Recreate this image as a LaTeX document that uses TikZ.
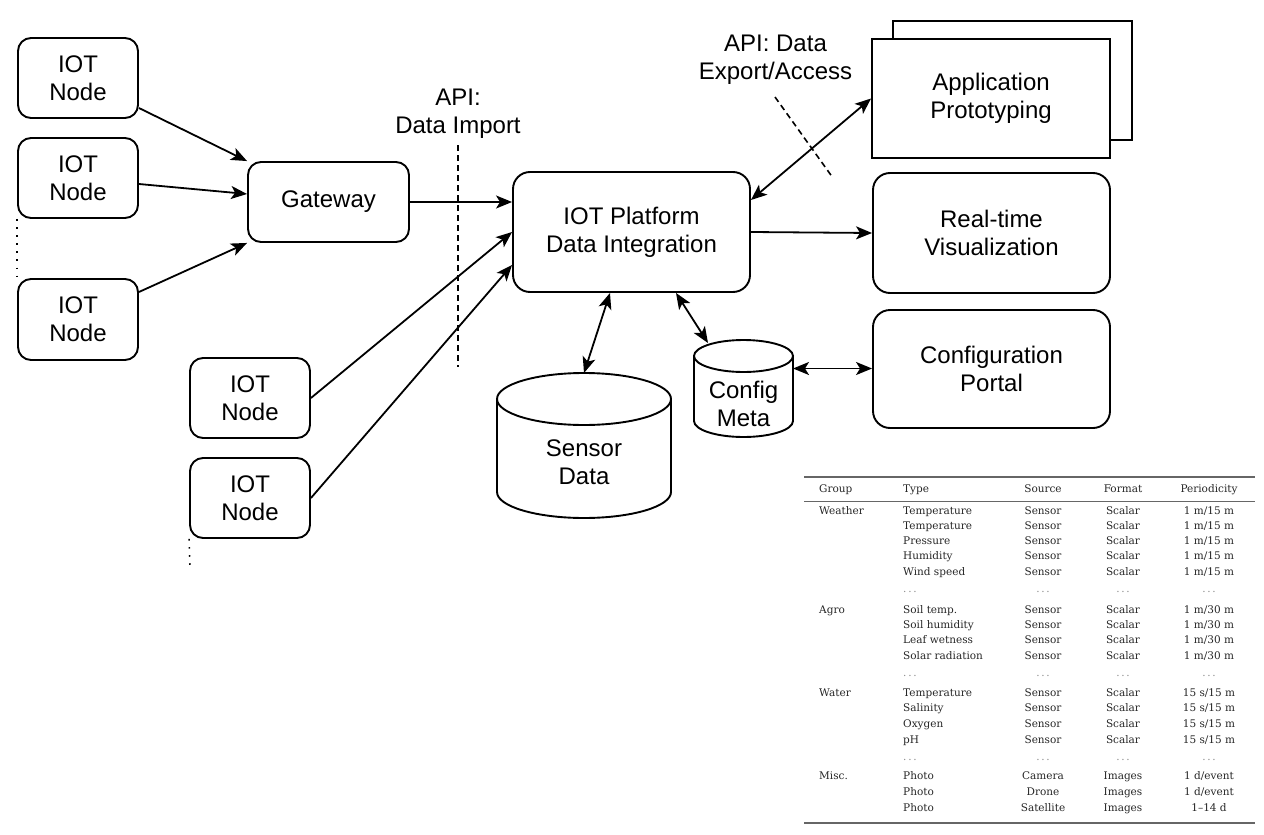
\documentclass[tikz,border=0pt]{standalone}
\usepackage{fontspec}
\setmainfont{Liberation Sans}
\newfontfamily\tabfont{DejaVu Serif}
\usetikzlibrary{arrows.meta}
\definecolor{tabtext}{gray}{0.15}
\definecolor{tabdots}{gray}{0.55}
\definecolor{tabrule}{gray}{0.4}
\newcommand\trow[6]{%
  \node[tcell,anchor=west] (#1t) at (903,#2) {#3};
  \node[tcell] (#1s) at (1043,#2) {#4};
  \node[tcell] (#1f) at (1123,#2) {#5};
  \node[tcell] (#1p) at (1209,#2) {#6};
}
\newcommand\tdots[2]{%
  \node[tdot,anchor=west] (#1t) at (903,#2) {.\,.\,.};
  \node[tdot] (#1s) at (1043,#2) {.\,.\,.};
  \node[tdot] (#1f) at (1123,#2) {.\,.\,.};
  \node[tdot] (#1p) at (1209,#2) {.\,.\,.};
}
\begin{document}
\begin{tikzpicture}[x=1pt,y=-1pt,
  box/.style={draw, line width=1.9pt, rounded corners=13pt, align=center,
    font=\fontsize{24}{28}\selectfont, inner sep=0pt},
  sqbox/.style={draw, line width=1.9pt, align=center, fill=white,
    font=\fontsize{24}{28}\selectfont, inner sep=0pt},
  lbl/.style={align=center, font=\fontsize{24}{28}\selectfont, inner sep=0pt},
  ghost/.style={inner sep=0pt, outer sep=0pt},
  cyl/.style={line width=1.9pt},
  arr/.style={line width=1.8pt, -{Stealth[length=16pt,width=13pt,inset=4pt]}},
  dbl/.style={line width=1.8pt, {Stealth[length=16pt,width=13pt,inset=4pt]}-{Stealth[length=16pt,width=13pt,inset=4pt]}},
  apiline/.style={line width=1.6pt, dash pattern=on 6pt off 4pt},
  dotline/.style={line width=1.6pt, dash pattern=on 1.6pt off 6.5pt},
  tcell/.style={inner sep=0pt, text=tabtext, font=\tabfont\fontsize{10.5}{12}\selectfont,
    text height=7.5pt, text depth=2pt},
  tdot/.style={tcell, text=tabdots},
  trule/.style={draw=tabrule}
]
\useasboundingbox (0,0) rectangle (1264,835);

% IOT nodes
\node[box, minimum width=120pt, minimum height=80pt] (n1) at (78,78) {IOT\\Node};
\node[box, minimum width=120pt, minimum height=80pt] (n2) at (78,178) {IOT\\Node};
\node[box, minimum width=120pt, minimum height=81pt] (n3) at (78,319.5) {IOT\\Node};
\node[box, minimum width=120pt, minimum height=80pt] (n4) at (250,398) {IOT\\Node};
\node[box, minimum width=120pt, minimum height=80pt] (n5) at (250,498) {IOT\\Node};
\coordinate (n5end) at (190,570);

% Gateway and platform
\node[box, minimum width=161pt, minimum height=80pt] (gw) at (328.5,202) {Gateway};
\node[box, rounded corners=17pt, minimum width=237pt, minimum height=120pt] (pl) at (631.5,232) {IOT Platform\\Data Integration};

% Right side boxes
\node[sqbox, minimum width=239pt, minimum height=119pt] (apb) at (1012.5,80.5) {};
\node[sqbox, minimum width=238pt, minimum height=119pt] (ap) at (991,98.5) {Application\\Prototyping};
\node[box, rounded corners=17pt, minimum width=237pt, minimum height=120pt] (rt) at (991.5,233) {Real-time\\Visualization};
\node[box, rounded corners=17pt, minimum width=237pt, minimum height=118pt] (cp) at (991.5,369) {Configuration\\Portal};

% Sensor Data cylinder
\draw[cyl] (497,399) -- (497,492) arc[start angle=180, end angle=360, x radius=87pt, y radius=26pt] -- (671,399);
\draw[cyl] (584,399) ellipse [x radius=87pt, y radius=26pt];
\node[ghost, minimum width=174pt, minimum height=145pt] (sd) at (584,445.5) {};
\node[lbl] (sdl) at (584,462) {Sensor\\Data};

% Config Meta cylinder
\draw[cyl] (694,356) -- (694,421) arc[start angle=180, end angle=360, x radius=49.5pt, y radius=16pt] -- (793,356);
\draw[cyl] (743.5,356) ellipse [x radius=49.5pt, y radius=16pt];
\node[ghost, minimum width=99pt, minimum height=97pt] (cm) at (743.5,388.5) {};
\node[lbl] (cml) at (743.5,403.5) {Config\\Meta};

% API labels and dashed lines
\node[lbl] (apiin) at (458,114) {API:\\Data Import};
\coordinate (apiinA) at (458,145);
\coordinate (apiinB) at (458,367);
\draw[apiline] (apiinA) -- (apiinB);
\node[lbl] (apiout) at (775.5,60) {API: Data\\Export/Access};
\coordinate (apioutA) at (775,97);
\coordinate (apioutB) at (833,178);
\draw[apiline] (apioutA) -- (apioutB);

% dotted continuation lines
\draw[dotline] (n2.south west) -- (n3.north west);
\draw[dotline] (n5.south west) -- (n5end);

% connectors
\draw[arr] ([yshift=-30pt]n1.east) -- (gw.north west);
\draw[arr] ([yshift=-6pt]n2.east) -- ([yshift=8pt]gw.west);
\draw[arr] ([yshift=27.5pt]n3.east) -- (gw.south west);
\draw[arr] (gw.east) -- (gw.east -| pl.west);
\draw[arr] (n4.east) -- (pl.west);
\draw[arr] (n5.east) -- ([yshift=-33pt]pl.west);
\draw[dbl] ([yshift=32pt]pl.east) -- (ap.west);
\draw[arr] (pl.east) -- (rt.west);
\draw[dbl] ([xshift=-21.5pt]pl.south) -- (sd.north);
\draw[dbl] ([xshift=44.5pt]pl.south) -- ([xshift=-35.5pt,yshift=-3pt]cm.north);
\draw[dbl] ([yshift=20pt]cm.east) -- ([yshift=20pt]cm.east -| cp.west);

% Table
\draw[trule, line width=1.8pt] (804,477) -- (1255,477);
\draw[trule, line width=0.9pt] (804,501) -- (1255,501);
\draw[trule, line width=1.8pt] (804,823) -- (1255,823);
\node[tcell,anchor=west] (hg) at (819,490) {Group};
\node[tcell,anchor=west] (ht) at (903,490) {Type};
\node[tcell] (hs) at (1043,490) {Source};
\node[tcell] (hf) at (1123,490) {Format};
\node[tcell] (hp) at (1209,490) {Periodicity};

\node[tcell,anchor=west] (gw1) at (819,512) {Weather};
\trow{a}{512}{Temperature}{Sensor}{Scalar}{1 m/15 m}
\trow{b}{527}{Temperature}{Sensor}{Scalar}{1 m/15 m}
\trow{c}{542}{Pressure}{Sensor}{Scalar}{1 m/15 m}
\trow{d}{557}{Humidity}{Sensor}{Scalar}{1 m/15 m}
\trow{e}{573}{Wind speed}{Sensor}{Scalar}{1 m/15 m}
\tdots{f}{590}
\node[tcell,anchor=west] (ga1) at (819,611) {Agro};
\trow{g}{611}{Soil temp.}{Sensor}{Scalar}{1 m/30 m}
\trow{h}{626}{Soil humidity}{Sensor}{Scalar}{1 m/30 m}
\trow{i}{641}{Leaf wetness}{Sensor}{Scalar}{1 m/30 m}
\trow{j}{657}{Solar radiation}{Sensor}{Scalar}{1 m/30 m}
\tdots{k}{674}
\node[tcell,anchor=west] (gwa1) at (819,694) {Water};
\trow{l}{694}{Temperature}{Sensor}{Scalar}{15 s/15 m}
\trow{m}{709}{Salinity}{Sensor}{Scalar}{15 s/15 m}
\trow{n}{725}{Oxygen}{Sensor}{Scalar}{15 s/15 m}
\trow{o}{741}{pH}{Sensor}{Scalar}{15 s/15 m}
\tdots{p}{758}
\node[tcell,anchor=west] (gm1) at (819,777) {Misc.};
\trow{q}{777}{Photo}{Camera}{Images}{1 d/event}
\trow{r}{793}{Photo}{Drone}{Images}{1 d/event}
\trow{s}{809}{Photo}{Satellite}{Images}{1–14 d}
\end{tikzpicture}
\end{document}
